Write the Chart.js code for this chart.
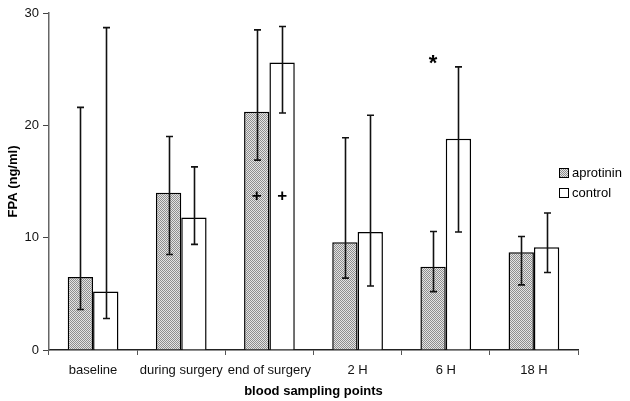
<!DOCTYPE html>
<html>
<head>
<meta charset="utf-8">
<script src="https://cdn.jsdelivr.net/npm/chart.js@4.4.1/dist/chart.umd.min.js"></script>
<style>
  html, body { margin: 0; padding: 0; background: #fff; }
  #wrap { width: 630px; height: 401px; position: relative; }
</style>
</head>
<body>
<div id="wrap"><canvas id="myChart" width="630" height="401"></canvas></div>
<script>
// data
const categories = ["baseline", "during surgery", "end of surgery", "2 H", "6 H", "18 H"];
const seriesNames = ["aprotinin", "control"];

const aprotinin = [6.5, 14.0, 21.2, 9.6, 7.4, 8.7];
const aprotininHigh = [21.6, 19.0, 28.5, 18.9, 10.55, 10.1];
const aprotininLow = [3.6, 8.5, 16.9, 6.4, 5.2, 5.8];

const control = [5.2, 11.8, 25.6, 10.5, 18.8, 9.15];
const controlHigh = [28.7, 16.3, 28.8, 20.9, 25.2, 12.2];
const controlLow = [2.8, 9.4, 21.1, 5.7, 10.5, 6.9];

const yTicks = [0, 10, 20, 30];

// significance marks: dataset index, category index, value, symbol
const markSeries = [0, 1, 0];
const markIndex = [2, 2, 4];
const markValue = [13.7, 13.7, 25.8];
const markText = ["+", "+", "*"];

// grey dither fill like the print
function ditherPattern() {
  const c = document.createElement("canvas");
  c.width = 2;
  c.height = 2;
  const g = c.getContext("2d");
  g.fillStyle = "#e4e4e4";
  g.fillRect(0, 0, 2, 2);
  g.fillStyle = "#8e8e8e";
  g.fillRect(0, 0, 1, 1);
  g.fillRect(1, 1, 1, 1);
  return g.createPattern(c, "repeat");
}
const greyFill = ditherPattern();

// error bars
const errorBars = {
  id: "errorBars",
  afterDatasetsDraw(chart) {
    const ctx = chart.ctx;
    const y = chart.scales.y;
    const highs = [aprotininHigh, controlHigh];
    const lows = [aprotininLow, controlLow];
    ctx.save();
    ctx.strokeStyle = "#111";
    ctx.lineWidth = 1.6;
    for (let d = 0; d < 2; d++) {
      const meta = chart.getDatasetMeta(d);
      meta.data.forEach((bar, i) => {
        const x = Math.round(bar.x) + 0.5;
        const top = y.getPixelForValue(highs[d][i]);
        const bot = y.getPixelForValue(lows[d][i]);
        ctx.beginPath();
        ctx.moveTo(x, top);
        ctx.lineTo(x, bot);
        ctx.moveTo(x - 3.5, top);
        ctx.lineTo(x + 3.5, top);
        ctx.moveTo(x - 3.5, bot);
        ctx.lineTo(x + 3.5, bot);
        ctx.stroke();
      });
    }
    // marks
    ctx.fillStyle = "#000";
    ctx.textAlign = "center";
    ctx.textBaseline = "middle";
    for (let k = 0; k < markText.length; k++) {
      const bar = chart.getDatasetMeta(markSeries[k]).data[markIndex[k]];
      const py = y.getPixelForValue(markValue[k]);
      ctx.font = markText[k] === "*" ? "bold 22px 'Liberation Sans', Arial" : "bold 17px 'Liberation Sans', Arial";
      ctx.fillText(markText[k], bar.x, py + (markText[k] === "*" ? 4 : 0));
    }
    ctx.restore();
  }
};

// legend on the right
const sideLegend = {
  id: "sideLegend",
  afterDraw(chart) {
    const ctx = chart.ctx;
    const fills = [greyFill, "#fff"];
    ctx.save();
    ctx.font = "13px 'Liberation Sans', Arial";
    ctx.textBaseline = "middle";
    ctx.fillStyle = "#000";
    seriesNames.forEach((name, i) => {
      const cy = 173 + i * 20;
      ctx.fillStyle = fills[i];
      ctx.fillRect(559, cy - 5, 9, 9);
      ctx.strokeStyle = "#000";
      ctx.lineWidth = 1;
      ctx.strokeRect(559.5, cy - 4.5, 9, 9);
      ctx.fillStyle = "#000";
      ctx.fillText(name, 572, cy);
    });
    ctx.restore();
  }
};

const ctx = document.getElementById("myChart");

const myChart = new Chart(ctx, {
  type: "bar",
  data: {
    labels: categories,
    datasets: [
      {
        label: seriesNames[0],
        data: aprotinin,
        backgroundColor: greyFill,
        borderColor: "#000",
        borderWidth: 1.5,
        borderSkipped: "bottom",
      },
      {
        label: seriesNames[1],
        data: control,
        backgroundColor: "#fff",
        borderColor: "#000",
        borderWidth: 1.5,
        borderSkipped: "bottom",
      },
    ],
  },
  options: {
    responsive: false,
    animation: false,
    layout: { padding: { left: 6, right: 52, top: 13, bottom: 0 } },
    categoryPercentage: 0.575,
    barPercentage: 1.0,
    plugins: {
      legend: { display: false },
      tooltip: { enabled: false },
    },
    scales: {
      x: {
        grid: {
          display: true,
          drawOnChartArea: false,
          drawTicks: true,
          tickLength: 5,
          color: "#555",
        },
        border: { display: true, color: "#222", width: 1.5 },
        ticks: {
          color: "#111",
          padding: 8,
          maxRotation: 0,
          autoSkip: false,
          font: { family: "'Liberation Sans', Arial", size: 13 },
        },
        title: {
          display: true,
          text: "blood sampling points",
          color: "#000",
          padding: { top: 0, bottom: 2 },
          font: { family: "'Liberation Sans', Arial", size: 13, weight: "bold" },
        },
        afterFit(scale) {
          scale.height = 51;
        },
      },
      y: {
        min: 0,
        max: 30,
        afterBuildTicks(scale) {
          scale.ticks = yTicks.map((v) => ({ value: v }));
        },
        grid: {
          display: true,
          drawOnChartArea: false,
          drawTicks: true,
          tickLength: 6,
          color: "#444",
        },
        border: { display: true, color: "#666", width: 1.5 },
        ticks: {
          color: "#111",
          padding: 4,
          font: { family: "'Liberation Sans', Arial", size: 13 },
        },
        title: {
          display: true,
          text: "FPA (ng/ml)",
          color: "#000",
          padding: { top: 0, bottom: 2 },
          font: { family: "'Liberation Sans', Arial", size: 13, weight: "bold" },
        },
        afterFit(scale) {
          scale.width = 43;
        },
      },
    },
  },
  plugins: [errorBars, sideLegend],
});
</script>
</body>
</html>
